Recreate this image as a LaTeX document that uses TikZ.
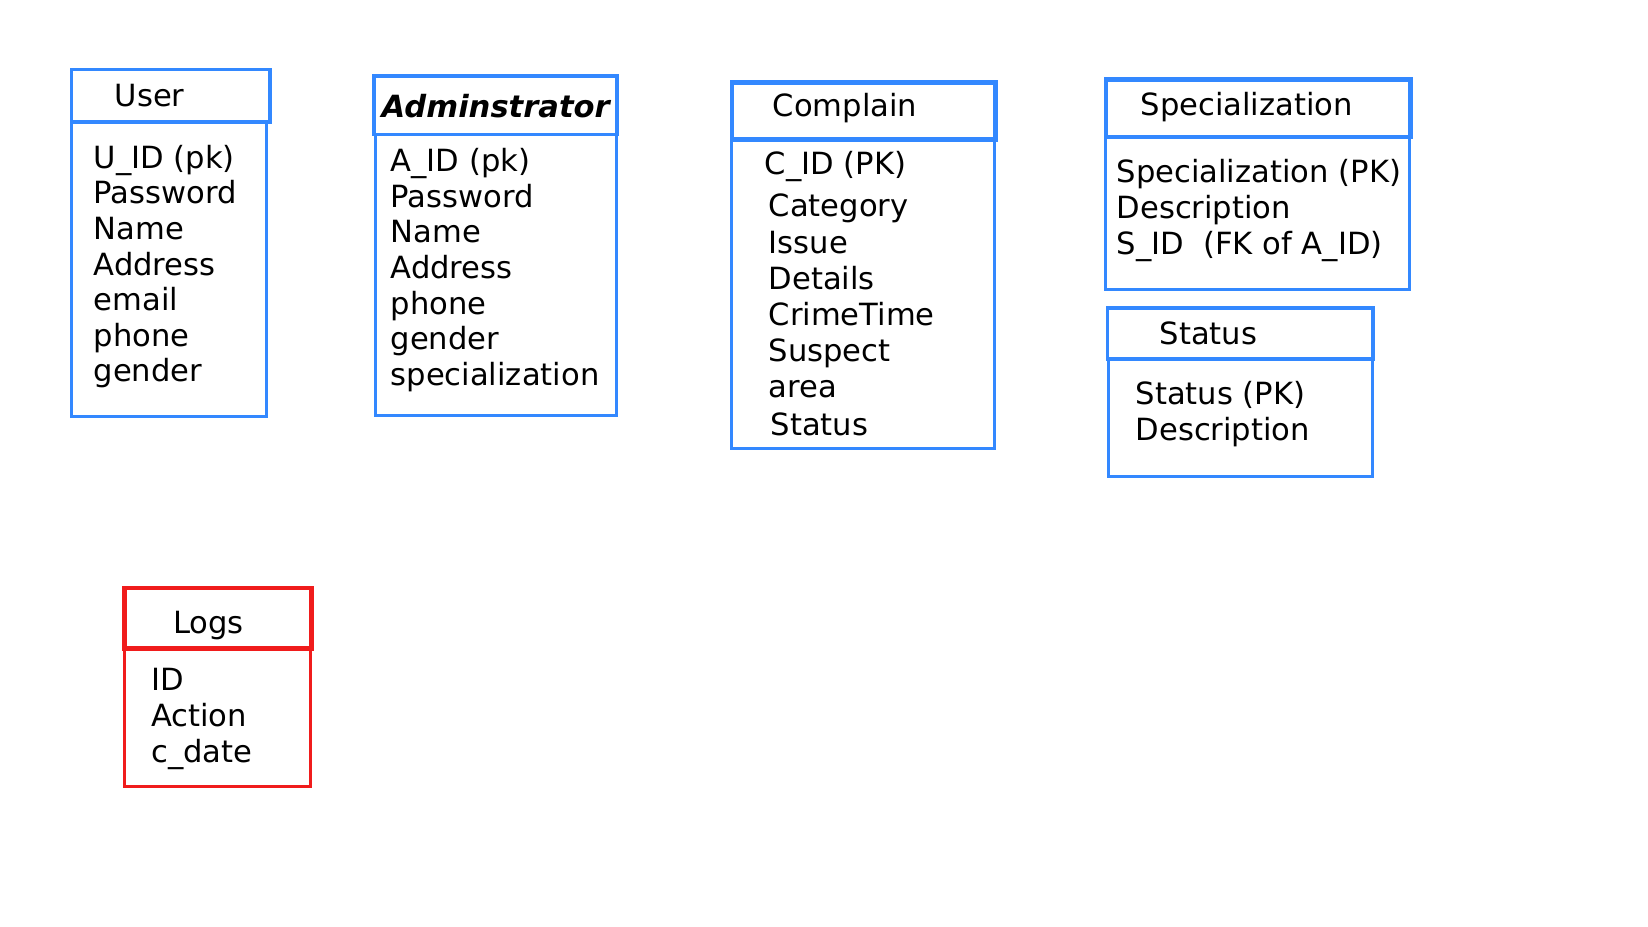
\documentclass[tikz,border=0pt]{standalone}
\usepackage{fontspec}
\setmainfont{DejaVu Sans}
\usetikzlibrary{positioning}
\definecolor{cBlue}{RGB}{51,136,255}
\definecolor{cRed}{RGB}{240,28,28}
\tikzset{
	tblhead/.style={rectangle, draw=cBlue, line width=1.1pt, anchor=north west, inner sep=0pt},
	tblbody/.style={rectangle, draw=cBlue, line width=0.9pt, anchor=north west, inner sep=0pt},
	loghead/.style={tblhead, draw=cRed},
	logbody/.style={tblbody, draw=cRed},
	title/.style={anchor=base west, inner sep=0pt, font=\fontsize{8.7}{10}\selectfont},
	field/.style={anchor=base west, inner sep=0pt, font=\fontsize{8.7}{10}\selectfont},
}

\begin{document}
\begin{tikzpicture}[x=0.01cm, y=-0.01cm]
	\useasboundingbox (0,0) rectangle (1648,927);
	% User
	\node[tblbody, minimum width=1.955cm, minimum height=2.95cm] (userB) at (69.5,120) {};
	\node[tblhead, minimum width=1.985cm, minimum height=0.525cm] (userH) at (69.5,67.5) {};
	\node[title] (userT) at (114,106) {User};
	\foreach \f [count=\i from 0] in {U\_ID (pk),Password,Name,Address,email,phone,gender}
		\node[field] (user\i) at (93,168.3+35.6*\i) {\f};
	% Adminstrator
	\node[tblbody, minimum width=2.41cm, minimum height=2.815cm] (admB) at (374,132.5) {};
	\node[tblhead, minimum width=2.43cm, minimum height=0.585cm] (admH) at (372,74) {};
	\node[title, font=\fontsize{8.7}{10}\selectfont\bfseries\itshape] (admT) at (381,117.3) {Adminstrator};
	\foreach \f [count=\i from 0] in {A\_ID (pk),Password,Name,Address,phone,gender,specialization}
		\node[field] (adm\i) at (390,171.7+35.6*\i) {\f};
	% Complain
	\node[tblbody, minimum width=2.635cm, minimum height=3.095cm] (cmpB) at (729.5,137) {};
	\node[tblhead, line width=1.4pt, minimum width=2.635cm, minimum height=0.57cm] (cmpH) at (729.5,80) {};
	\node[title] (cmpT) at (772,116.7) {Complain};
	\foreach \xx/\yy/\f [count=\i] in {764/174/C\_ID (PK),768/216.7/Category,768/253.5/Issue,768/289.5/Details,
			768/325.5/CrimeTime,768/361.5/Suspect,768/397/area,770/435.5/Status}
		\node[field] (cmp\i) at (\xx,\yy) {\f};
	% Specialization
	\node[tblbody, minimum width=3.045cm, minimum height=1.535cm] (spcB) at (1103.5,134.5) {};
	\node[tblhead, line width=1.4pt, minimum width=3.045cm, minimum height=0.575cm] (spcH) at (1103.5,77) {};
	\node[title] (spcT) at (1140,115) {Specialization};
	\foreach \f [count=\i from 0] in {Specialization (PK),Description,S\_ID\ \ (FK of A\_ID)}
		\node[field] (spc\i) at (1116,182+36.3*\i) {\f};
	% Status
	\node[tblbody, minimum width=2.64cm, minimum height=1.18cm] (staB) at (1107,357) {};
	\node[tblhead, minimum width=2.65cm, minimum height=0.51cm] (staH) at (1105.5,306) {};
	\node[title] (staT) at (1159,344) {Status};
	\foreach \f [count=\i from 0] in {Status (PK),Description}
		\node[field] (sta\i) at (1135,404.3+36.4*\i) {\f};
	% Logs
	\node[logbody, minimum width=1.86cm, minimum height=1.39cm] (logB) at (123,646) {};
	\node[loghead, line width=1.4pt, minimum width=1.87cm, minimum height=0.605cm] (logH) at (122,585.5) {};
	\node[title] (logT) at (172.5,633.5) {Logs};
	\foreach \f [count=\i from 0] in {ID,Action,c\_date}
		\node[field] (log\i) at (150.5,690.5+36*\i) {\f};
\end{tikzpicture}
\end{document}
